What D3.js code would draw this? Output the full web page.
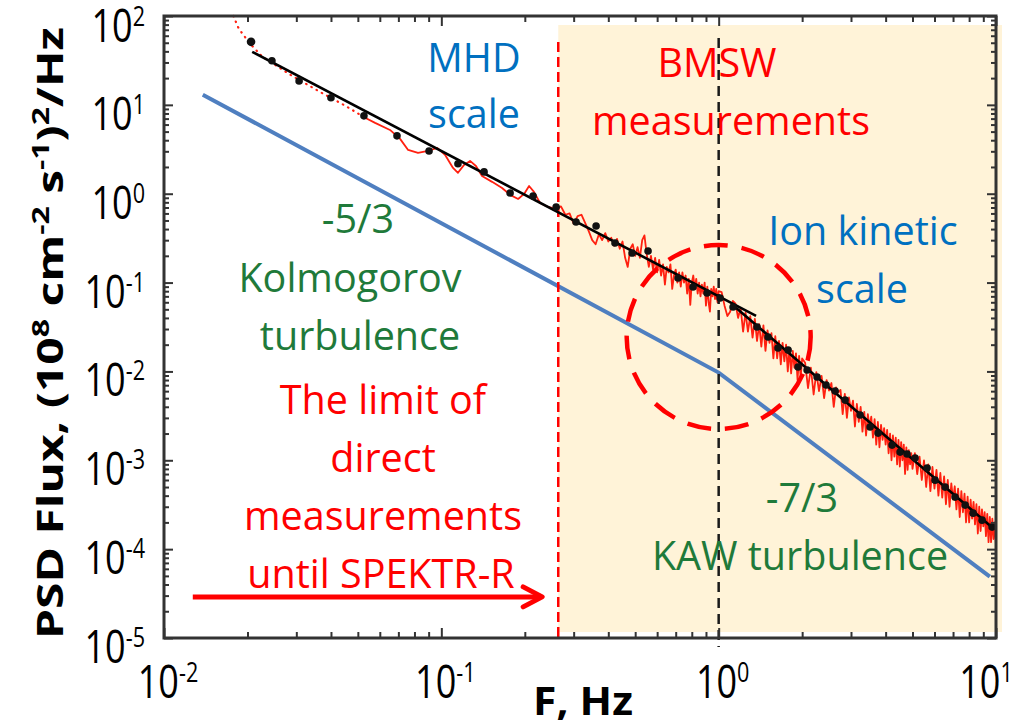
<!DOCTYPE html>
<html>
<head>
<meta charset="utf-8">
<script src="https://cdn.jsdelivr.net/npm/d3@7"></script>
<style>
  body { margin: 0; background: #fff; }
  text { font-family: 'Open Sans', 'Noto Sans', sans-serif; }
</style>
</head>
<body>
<svg id="chart"></svg>
<script>
// ---- values ----
// red dotted tail at the low-frequency end
const tailF = [0.0178, 0.0186, 0.0204, 0.0226, 0.0284, 0.0365, 0.045, 0.0531];
const tailP = [100, 72, 49, 35, 22, 14, 9.8, 7.15];

// measured spectrum (solid red)
const specF = [
  0.0531, 0.0577, 0.0653, 0.071, 0.0759, 0.0824, 0.0895, 0.0966, 0.1031, 0.1102, 0.1148, 0.1208,
  0.1269, 0.1333, 0.1402, 0.1524, 0.1656, 0.177, 0.1892, 0.1988, 0.2072, 0.2158, 0.227, 0.2427, 0.2594,
  0.27, 0.28, 0.29, 0.30, 0.31, 0.32, 0.33, 0.34, 0.35, 0.36, 0.37, 0.38, 0.39, 0.40, 0.41, 0.42,
  0.43, 0.44, 0.45, 0.46, 0.47, 0.48, 0.49, 0.50, 0.51, 0.52, 0.53, 0.54, 0.55, 0.56, 0.57, 0.58,
  0.59, 0.60, 0.61, 0.62, 0.63, 0.64, 0.65, 0.66, 0.67, 0.68, 0.69, 0.70, 0.71, 0.72, 0.73, 0.74,
  0.75, 0.76, 0.77, 0.78, 0.79, 0.80, 0.81, 0.82, 0.83, 0.84, 0.85, 0.86, 0.87, 0.88, 0.89, 0.90,
  0.91, 0.92, 0.93, 0.94, 0.95, 0.96, 0.97, 0.98, 0.99, 1.00,
  1.025, 1.05, 1.075, 1.1, 1.125, 1.15, 1.175, 1.2, 1.225, 1.25, 1.275, 1.3, 1.325, 1.35, 1.375,
  1.4, 1.425, 1.45, 1.475, 1.5, 1.525, 1.55, 1.575, 1.6, 1.625, 1.65, 1.675, 1.7, 1.725, 1.75,
  1.775, 1.8, 1.825, 1.85, 1.875, 1.9, 1.925, 1.95, 1.975, 2.0,
  2.05, 2.1, 2.15, 2.2, 2.25, 2.3, 2.35, 2.4, 2.45, 2.5, 2.55, 2.6, 2.65, 2.7, 2.75, 2.8, 2.85,
  2.9, 2.95, 3.0, 3.05, 3.1, 3.15, 3.2, 3.25, 3.3, 3.35, 3.4, 3.45, 3.5, 3.55, 3.6, 3.65, 3.7,
  3.75, 3.8, 3.85, 3.9, 3.95, 4.0, 4.05, 4.1, 4.15, 4.2, 4.25, 4.3, 4.35, 4.4, 4.45, 4.5, 4.55,
  4.6, 4.65, 4.7, 4.75, 4.8, 4.85, 4.9, 4.95, 5.0,
  5.1, 5.2, 5.3, 5.4, 5.5, 5.6, 5.7, 5.8, 5.9, 6.0, 6.1, 6.2, 6.3, 6.4, 6.5, 6.6, 6.7, 6.8, 6.9,
  7.0, 7.1, 7.2, 7.3, 7.4, 7.5, 7.6, 7.7, 7.8, 7.9, 8.0, 8.1, 8.2, 8.3, 8.4, 8.5, 8.6, 8.7, 8.8,
  8.9, 9.0, 9.1, 9.2, 9.3, 9.4, 9.5, 9.6, 9.7, 9.8, 9.9, 10.0
];
const specP = [
  7.15, 6.27, 5.22, 4.14, 3.11, 2.88, 3.03, 3.28, 2.74, 1.95, 1.72, 2.11,
  2.34, 2.05, 1.58, 1.36, 1.16, 0.97, 0.873, 0.995, 1.22, 1.05, 0.787, 0.709, 0.674,
  0.72, 0.58, 0.60, 0.46, 0.56, 0.58, 0.47, 0.38, 0.30, 0.27, 0.35, 0.30, 0.36, 0.29, 0.32, 0.26,
  0.31, 0.24, 0.29, 0.19, 0.15, 0.24, 0.27, 0.20, 0.25, 0.19, 0.30, 0.34, 0.21, 0.15, 0.20, 0.14,
  0.19, 0.13, 0.18, 0.12, 0.16, 0.095, 0.15, 0.13, 0.16, 0.085, 0.12, 0.14, 0.10, 0.13, 0.09, 0.13,
  0.10, 0.12, 0.075, 0.11, 0.056, 0.10, 0.12, 0.085, 0.11, 0.075, 0.10, 0.07, 0.095, 0.075, 0.10, 0.055,
  0.09, 0.06, 0.047, 0.085, 0.07, 0.09, 0.065, 0.085, 0.06, 0.08,
  0.078, 0.055, 0.042, 0.047, 0.062, 0.058, 0.040, 0.052, 0.028, 0.046, 0.028, 0.042, 0.024, 0.039, 0.022,
  0.034, 0.019, 0.033, 0.017, 0.029, 0.021, 0.027, 0.014, 0.025, 0.014, 0.022, 0.012, 0.021, 0.013, 0.020,
  0.010, 0.018, 0.0095, 0.017, 0.011, 0.016, 0.008, 0.015, 0.0085, 0.014,
  0.0125, 0.0065, 0.0110, 0.0055, 0.0098, 0.0060, 0.0089, 0.0050, 0.0080, 0.0061, 0.0074, 0.0040, 0.0066, 0.0058, 0.0062, 0.0033, 0.0056,
  0.0030, 0.0051, 0.0036, 0.0047, 0.0024, 0.0043, 0.0027, 0.0040, 0.0021, 0.0035, 0.0019, 0.0033, 0.0024, 0.0031, 0.0018, 0.0029, 0.0015,
  0.0027, 0.0014, 0.0025, 0.0017, 0.0023, 0.0015, 0.0022, 0.0012, 0.0020, 0.0010, 0.0019, 0.0011, 0.0018, 0.0009, 0.0017, 0.00085, 0.0016,
  0.0010, 0.0015, 0.0007, 0.0014, 0.00078, 0.0013, 0.0009, 0.0012, 0.0008,
  0.0012, 0.0007, 0.0011, 0.0006, 0.0010, 0.0005, 0.0009, 0.00045, 0.00084, 0.00048, 0.00078, 0.0004, 0.00072, 0.00038, 0.00066, 0.00032, 0.0006, 0.0003, 0.00055,
  0.00036, 0.00051, 0.00028, 0.00048, 0.00023, 0.00045, 0.00026, 0.00042, 0.0002, 0.00039, 0.0002, 0.00036, 0.00022, 0.00034, 0.00019, 0.00032, 0.00015, 0.0003, 0.00016,
  0.00028, 0.00018, 0.00026, 0.00014, 0.00025, 0.00012, 0.00023, 0.00012, 0.00022, 0.00013, 0.0002, 0.00011
];

// binned averages (black dots)
const binF = [0.0206, 0.0245, 0.0307, 0.0400, 0.0526, 0.0692, 0.0903, 0.1148, 0.1426, 0.1770, 0.2142, 0.2594,
  0.3060, 0.3614, 0.4229, 0.4873, 0.5564, 0.7138, 0.8084, 0.9081, 1.012, 1.127, 1.375, 1.507, 1.637, 1.780,
  1.933, 2.084, 2.264, 2.439, 2.630, 2.857, 3.236, 3.516, 3.758, 4.220, 4.510, 4.778, 5.108, 5.643, 6.03,
  6.555, 7.12, 7.74, 8.27, 8.91, 9.68];
const binP = [51.2, 31.3, 18.6, 12.0, 7.52, 4.48, 3.03, 2.17, 1.76, 1.02, 0.944, 0.710,
  0.481, 0.434, 0.279, 0.215, 0.227, 0.1127, 0.0892, 0.0764, 0.0671, 0.0531, 0.0316, 0.0244, 0.01834, 0.01742,
  0.01121, 0.01037, 0.00865, 0.00703, 0.00601, 0.00476, 0.00323, 0.002366, 0.002024, 0.001483, 0.001237, 0.001175, 0.00106, 0.000817, 0.000598,
  0.000499, 0.000385, 0.000313, 0.000254, 0.000212, 0.000177];

// power-law fits (black lines)
const fitMhdF = [0.0208, 1.364];
const fitMhdP = [39.5, 0.0421];
const fitKinF = [1.146, 9.76];
const fitKinP = [0.0531, 1.72e-4];

// model spectrum -5/3 then -7/3 (blue)
const modelF = [0.0138, 1, 9.5];
const modelP = [13, 0.0097, 4.9e-5];

const bmswStartF = 0.264;     // red dashed line, start of BMSW range
const ionBreakF = 1;          // black dashed line
const circleAt = [1.0, 0.0244];
const arrowF = [0.0127, 0.231];
const arrowP = 2.9e-5;

const xExps = [-2, -1, 0, 1];
const yExps = [-5, -4, -3, -2, -1, 0, 1, 2];

// ---- drawing ----
const width = 1030, height = 728;
const margin = { top: 16, right: 34, bottom: 90, left: 164 };

const svg = d3.select('#chart')
  .attr('width', width)
  .attr('height', height);

const x = d3.scaleLog()
  .domain([1e-2, 1e1])
  .range([margin.left, width - margin.right]);

const y = d3.scaleLog()
  .domain([1e-5, 1e2])
  .range([height - margin.bottom, margin.top]);

const x0 = x.range()[0], x1 = x.range()[1];
const y0 = y.range()[0], y1 = y.range()[1];

const RED = '#ff0000', BLUE = '#0070c0', GREEN = '#1f7a3a';

// shaded BMSW band
svg.append('rect')
  .attr('x', x(bmswStartF))
  .attr('y', y1 + 9)
  .attr('width', x1 + 6 - x(bmswStartF))
  .attr('height', y0 - 6 - (y1 + 9))
  .attr('fill', '#fff3d8');

const line = d3.line()
  .x(d => x(d[0]))
  .y(d => y(d[1]));

// model line
svg.append('path')
  .datum(modelF.map((f, i) => [f, modelP[i]]))
  .attr('d', line)
  .attr('fill', 'none')
  .attr('stroke', '#4f7fc0')
  .attr('stroke-width', 4);

// vertical dashed lines
svg.append('line')
  .attr('x1', x(bmswStartF)).attr('x2', x(bmswStartF))
  .attr('y1', y1 + 26).attr('y2', y0)
  .attr('stroke', RED)
  .attr('stroke-width', 2.5)
  .attr('stroke-dasharray', '10,5');

// measured spectrum
svg.append('path')
  .datum(tailF.map((f, i) => [f, tailP[i]]))
  .attr('d', line)
  .attr('fill', 'none')
  .attr('stroke', '#ff2010')
  .attr('stroke-width', 2.2)
  .attr('stroke-linecap', 'round')
  .attr('stroke-dasharray', '0.5,5.5');

svg.append('path')
  .datum(specF.map((f, i) => [f, specP[i]]))
  .attr('d', line)
  .attr('fill', 'none')
  .attr('stroke', '#ff2010')
  .attr('stroke-width', 1.8)
  .attr('stroke-linejoin', 'round');

svg.append('line')
  .attr('x1', x(ionBreakF)).attr('x2', x(ionBreakF))
  .attr('y1', y1 + 22).attr('y2', y0 + 9)
  .attr('stroke', '#1a1a1a')
  .attr('stroke-width', 2.5)
  .attr('stroke-dasharray', '10,6');

// fits
[[fitMhdF, fitMhdP], [fitKinF, fitKinP]].forEach(([fs, ps]) => {
  svg.append('path')
    .datum(fs.map((f, i) => [f, ps[i]]))
    .attr('d', line)
    .attr('fill', 'none')
    .attr('stroke', '#000')
    .attr('stroke-width', 2.6);
});

svg.selectAll('circle.bin')
  .data(binF.map((f, i) => [f, binP[i]]))
  .enter()
  .append('circle')
  .attr('class', 'bin')
  .attr('cx', d => x(d[0]))
  .attr('cy', d => y(d[1]))
  .attr('r', (d, i) => i === 0 ? 4.3 : 3.8)
  .attr('fill', '#111');

// dashed circle around the break
svg.append('circle')
  .attr('cx', x(circleAt[0]))
  .attr('cy', y(circleAt[1]))
  .attr('r', 92)
  .attr('fill', 'none')
  .attr('stroke', RED)
  .attr('stroke-width', 4.5)
  .attr('stroke-dasharray', '24,14');

// arrow
const ax0 = x(arrowF[0]), ax1 = x(arrowF[1]), ay = y(arrowP);
svg.append('line')
  .attr('x1', ax0).attr('x2', ax1 - 3)
  .attr('y1', ay).attr('y2', ay)
  .attr('stroke', RED)
  .attr('stroke-width', 5);
svg.append('path')
  .attr('d', `M${ax1 - 19},${ay - 10}L${ax1},${ay}L${ax1 - 19},${ay + 10}`)
  .attr('fill', 'none')
  .attr('stroke', RED)
  .attr('stroke-width', 5)
  .attr('stroke-linecap', 'round')
  .attr('stroke-linejoin', 'round');

// ---- axes: frame with inward ticks on all four sides ----
const isMajor = v => Math.abs(Math.log10(v) - Math.round(Math.log10(v))) < 1e-6;
const xMinor = x.ticks().filter(v => !isMajor(v));
const xMajor = x.ticks().filter(isMajor);
const yMinor = y.ticks().filter(v => !isMajor(v));
const yMajor = y.ticks().filter(isMajor);

function drawAxis(axis, tx, ty, values, size) {
  svg.append('g')
    .attr('transform', `translate(${tx},${ty})`)
    .call(axis.tickValues(values).tickSize(size).tickFormat(''))
    .call(g => g.select('.domain').remove())
    .call(g => g.selectAll('line').attr('stroke', '#333').attr('stroke-width', 2));
}
drawAxis(d3.axisTop(x), 0, y0, xMinor, 6);
drawAxis(d3.axisTop(x), 0, y0, xMajor, 10);
drawAxis(d3.axisBottom(x), 0, y1, xMinor, 6);
drawAxis(d3.axisBottom(x), 0, y1, xMajor, 10);
drawAxis(d3.axisRight(y), x0, 0, yMinor, 5);
drawAxis(d3.axisRight(y), x0, 0, yMajor, 9);
drawAxis(d3.axisLeft(y), x1, 0, yMinor, 5);
drawAxis(d3.axisLeft(y), x1, 0, yMajor, 9);

svg.append('rect')
  .attr('x', x0).attr('y', y1)
  .attr('width', x1 - x0).attr('height', y0 - y1)
  .attr('fill', 'none')
  .attr('stroke', '#333')
  .attr('stroke-width', 3);

// tick labels 10^n
function powLabel(tx, ty, exp, anchor) {
  const t = svg.append('text')
    .attr('transform', `translate(${tx},${ty}) scale(0.8,1)`)
    .attr('text-anchor', anchor)
    .attr('fill', '#000');
  t.append('tspan').attr('font-size', 45).text('10');
  t.append('tspan').attr('font-size', 27).attr('dy', -16).text(exp);
}
yExps.forEach(e => powLabel(x0 - 19, y(Math.pow(10, e)) + (e === 2 ? 26 : 25), e, 'end'));
xExps.forEach(e => powLabel(Math.min(x(Math.pow(10, e)) + 4, 986), y0 + 60, e, 'middle'));

// axis titles
svg.append('text')
  .attr('x', 583).attr('y', 715)
  .attr('text-anchor', 'middle')
  .attr('font-size', 40)
  .attr('font-weight', 'bold')
  .attr('textLength', 100)
  .attr('lengthAdjust', 'spacingAndGlyphs')
  .text('F, Hz');

const yTitle = svg.append('text')
  .attr('transform', 'translate(63,333) rotate(-90)')
  .attr('text-anchor', 'middle')
  .attr('font-size', 36)
  .attr('font-weight', 'bold')
  .attr('textLength', 612)
  .attr('lengthAdjust', 'spacingAndGlyphs');
[['PSD Flux, (10', 0], ['8', 1], [' cm', 0], ['-2', 1], [' s', 0], ['-1', 1], [')', 0], ['2', 1], ['/Hz', 0]]
  .forEach(([s, sup], i, arr) => {
    const prevSup = i > 0 && arr[i - 1][1];
    yTitle.append('tspan')
      .attr('font-size', sup ? 24 : 36)
      .attr('dy', sup ? -14 : (prevSup ? 14 : 0))
      .text(s);
  });

// annotations
const notes = [
  ['MHD', 474, 72, BLUE], ['scale', 474, 128, BLUE],
  ['BMSW', 717, 77, RED], ['measurements', 731, 135, RED],
  ['-5/3', 358, 233, GREEN], ['Kolmogorov', 350, 292, GREEN], ['turbulence', 360, 350, GREEN],
  ['The limit of', 383, 414, RED], ['direct', 383, 472, RED],
  ['measurements', 383, 530, RED], ['until SPEKTR-R', 381, 588, RED],
  ['Ion kinetic', 863, 245, BLUE], ['scale', 862, 303, BLUE],
  ['-7/3', 802, 512, GREEN], ['KAW turbulence', 800, 570, GREEN]
];
svg.selectAll('text.note')
  .data(notes)
  .enter()
  .append('text')
  .attr('class', 'note')
  .attr('x', d => d[1])
  .attr('y', d => d[2])
  .attr('text-anchor', 'middle')
  .attr('font-size', 39.5)
  .attr('fill', d => d[3])
  .text(d => d[0]);
</script>
</body>
</html>
